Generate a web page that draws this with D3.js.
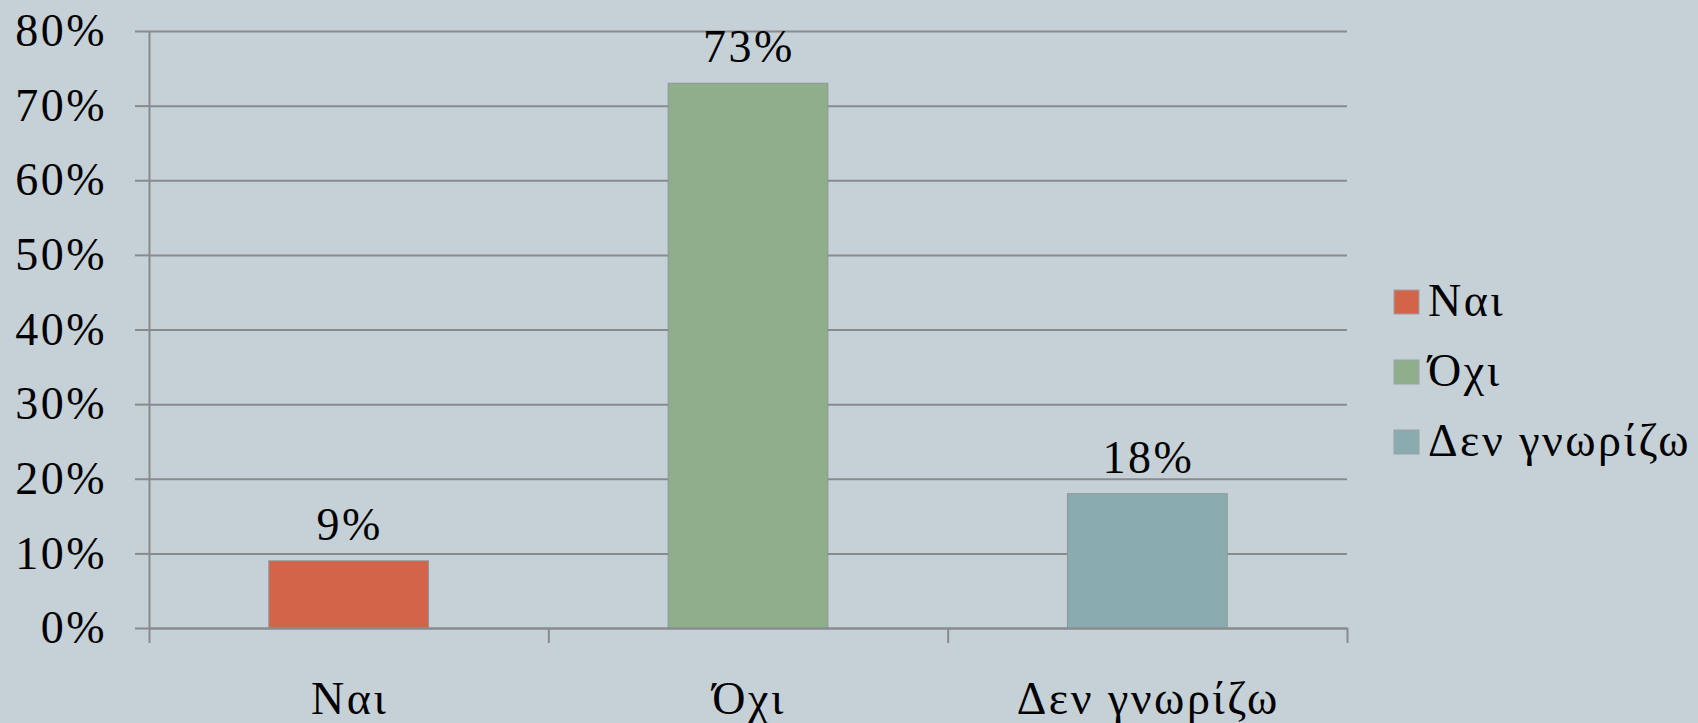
<!DOCTYPE html>
<html><head><meta charset="utf-8">
<script src="https://cdn.jsdelivr.net/npm/d3@7"></script>
<style>
html,body{margin:0;padding:0;background:#C6D1D7;}
svg{display:block;font-family:"Liberation Serif","DejaVu Serif",serif;}
svg text{letter-spacing:2.5px;}
</style></head>
<body>
<svg id="chart" width="1698" height="723"></svg>
<script>
const categories = ["Ναι", "Όχι", "Δεν γνωρίζω"];
const values = [0.09, 0.73, 0.18];
const colors = ["#D2644A", "#8FAE8B", "#8AACAF"];
const yTicks = [0, 0.1, 0.2, 0.3, 0.4, 0.5, 0.6, 0.7, 0.8];

(function(){
const svg = d3.select("#chart");
const pLeft = 149, pRight = 1347, pTop = 31, pBottom = 628;
const lineColor = "#878B8E";
const fs = 46;

svg.append("rect").attr("width",1698).attr("height",723).attr("fill","#C6D1D7");

const x = d3.scaleBand().domain(categories).range([pLeft, pRight]).padding(0);
const y = d3.scaleLinear().domain([0, 0.8]).range([pBottom, pTop]);
const fmt = d => Math.round(d*100) + "%";

// gridlines
const grid = svg.append("g").attr("transform", `translate(${pLeft},0)`)
  .call(d3.axisLeft(y).tickValues(yTicks).tickSize(-(pRight-pLeft)).tickFormat(""));
grid.select(".domain").remove();
grid.selectAll("line").attr("stroke", lineColor).attr("stroke-width", 2);

// y axis with tick marks + labels
const ya = svg.append("g").attr("transform", `translate(${pLeft},0)`)
  .call(d3.axisLeft(y).tickValues(yTicks).tickSize(14).tickPadding(28).tickSizeOuter(0).tickFormat(fmt));
ya.select(".domain").attr("stroke", lineColor).attr("stroke-width", 2);
ya.selectAll("line").attr("stroke", lineColor).attr("stroke-width", 2);
ya.selectAll("text").attr("font-size", fs).attr("fill", "#000").attr("font-family", "Liberation Serif");

// bars
const bw = x.bandwidth() * 0.4;
svg.append("g").selectAll("rect").data(values).join("rect")
  .attr("x", (d,i) => x(categories[i]) + (x.bandwidth()-bw)/2)
  .attr("width", bw)
  .attr("y", d => y(d))
  .attr("height", d => y(0) - y(d))
  .attr("fill", (d,i) => colors[i])
  .attr("stroke", "#8E9698").attr("stroke-width", 1);

// data labels
svg.append("g").selectAll("text").data(values).join("text")
  .attr("x", (d,i) => x(categories[i]) + x.bandwidth()/2 + 1)
  .attr("y", d => y(d) - 21)
  .attr("text-anchor", "middle")
  .attr("font-size", fs).attr("fill", "#000")
  .text(fmt);

// bottom axis line and boundary ticks
const xb = d3.scaleLinear().domain([0, categories.length]).range([pLeft, pRight]);
const xa = svg.append("g").attr("transform", `translate(0,${pBottom})`)
  .call(d3.axisBottom(xb).tickValues(d3.range(categories.length+1)).tickSize(15).tickSizeOuter(0).tickFormat(""));
xa.select(".domain").attr("stroke", lineColor).attr("stroke-width", 2);
xa.selectAll("line").attr("stroke", lineColor).attr("stroke-width", 2);

// category labels
const xl = svg.append("g").attr("transform", `translate(1,${pBottom})`)
  .call(d3.axisBottom(x).tickSize(0).tickPadding(0));
xl.select(".domain").remove();
xl.selectAll("text").attr("font-size", fs).attr("fill", "#000")
  .attr("font-family", "Liberation Serif").attr("dy", null).attr("y", 86);

// legend
const lg = svg.append("g").attr("transform", "translate(1394,290)");
const items = lg.selectAll("g").data(categories).join("g")
  .attr("transform", (d,i) => `translate(0,${i*70})`);
items.append("rect").attr("width", 25).attr("height", 24)
  .attr("fill", (d,i) => colors[i]).attr("stroke", "#9AA3A6").attr("stroke-width", 1);
items.append("text").attr("x", 34).attr("y", 26)
  .attr("font-size", fs).attr("fill", "#000").text(d => d);
})();
</script>
</body></html>
